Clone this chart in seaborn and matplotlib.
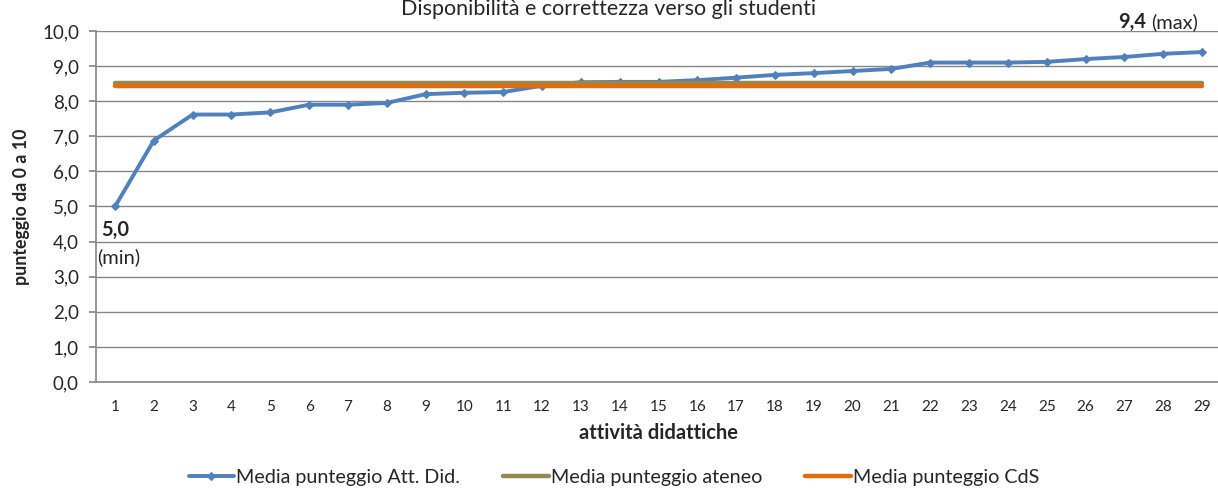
import numpy as np
import pandas as pd
import matplotlib
matplotlib.use("Agg")
import matplotlib.pyplot as plt
import seaborn as sns

# data
attivita = list(range(1, 30))
media_att_did = [5.0, 6.88, 7.62, 7.62, 7.68, 7.90, 7.90, 7.95, 8.20, 8.24,
                 8.26, 8.44, 8.54, 8.55, 8.55, 8.60, 8.67, 8.75, 8.80, 8.86,
                 8.92, 9.10, 9.10, 9.10, 9.12, 9.20, 9.26, 9.35, 9.40]
media_ateneo = 8.52
media_cds = 8.43
y_ticks = [0, 1, 2, 3, 4, 5, 6, 7, 8, 9, 10]

blue = "#4F81BD"
olive = "#938953"
orange = "#E46C0A"
grid_col = "#868686"


def virgola(v):
    return f"{v:.1f}".replace(".", ",")


sns.set_theme(style="white")
plt.rcParams["font.family"] = ["Lato", "DejaVu Sans"]

df = pd.DataFrame({
    "attivita": attivita,
    "att_did": media_att_did,
    "ateneo": np.full(len(attivita), media_ateneo),
    "cds": np.full(len(attivita), media_cds),
})

W, H = 1218, 495
fig = plt.figure(figsize=(W / 100, H / 100), dpi=100)
ax = fig.add_axes([0.0785, 0.2283, 0.9243, 0.7091])

sns.lineplot(data=df, x="attivita", y="att_did", ax=ax, color=blue, lw=2.8,
             marker="D", markersize=4.5, markeredgecolor=blue,
             label="Media punteggio Att. Did.", zorder=3)
sns.lineplot(data=df, x="attivita", y="ateneo", ax=ax, color=olive, lw=3.2,
             label="Media punteggio ateneo", zorder=4)
sns.lineplot(data=df, x="attivita", y="cds", ax=ax, color=orange, lw=3.2,
             label="Media punteggio CdS", zorder=5)

ax.set_xlim(0.5, len(attivita) + 0.5)
ax.set_ylim(0, 10)
ax.set_yticks(y_ticks)
ax.set_yticklabels([virgola(v) for v in y_ticks], fontsize=13.5)
ax.set_xticks(attivita)
ax.set_xticklabels([str(a) for a in attivita], fontsize=11)
ax.set_xticks(np.arange(0.5, len(attivita) + 1, 1), minor=True)
ax.tick_params(axis="x", which="major", length=0, pad=13)
ax.tick_params(axis="x", which="minor", length=4, color=grid_col, direction="out")
ax.tick_params(axis="y", length=5, color=grid_col, direction="out", left=True, pad=7)

ax.grid(axis="y", color=grid_col, lw=1)
for s in ["top", "right"]:
    ax.spines[s].set_visible(False)
for s in ["left", "bottom"]:
    ax.spines[s].set_color(grid_col)
    ax.spines[s].set_linewidth(1.2)

ax.set_xlabel("attività didattiche", fontsize=14.5, fontweight="bold")
ax.xaxis.set_label_coords(0.5, -0.118)
ax.set_ylabel("punteggio da 0 a 10", fontsize=12.8, fontweight="bold")
ax.yaxis.set_label_coords(-0.058, 0.5)

fig.text(0.5, 1 - 15 / H, "Disponibilità e correttezza verso gli studenti",
         ha="center", va="baseline", fontsize=15.5)

# min / max annotations
ax.text(attivita[0], media_att_did[0] - 0.68, virgola(media_att_did[0]),
        ha="center", va="center", fontsize=14.5, fontweight="bold")
ax.text(attivita[0] + 0.1, media_att_did[0] - 1.45, "(min)",
        ha="center", va="center", fontsize=14.5)
fig.text(1146 / W, 1 - 22 / H, virgola(media_att_did[-1]),
         ha="right", va="center", fontsize=14.5, fontweight="bold")
fig.text(1151 / W, 1 - 22 / H, "(max)", ha="left", va="center", fontsize=14.5)

ax.get_legend().remove()
handles, labels = ax.get_legend_handles_labels()
fig.legend(handles, labels, loc="center", bbox_to_anchor=(614 / W, 1 - 477 / H), ncol=3,
           frameon=False, fontsize=14.2, handlelength=2.3, handletextpad=0.1,
           columnspacing=2.2, borderaxespad=0, borderpad=0)

fig.savefig("out.png", dpi=100)
